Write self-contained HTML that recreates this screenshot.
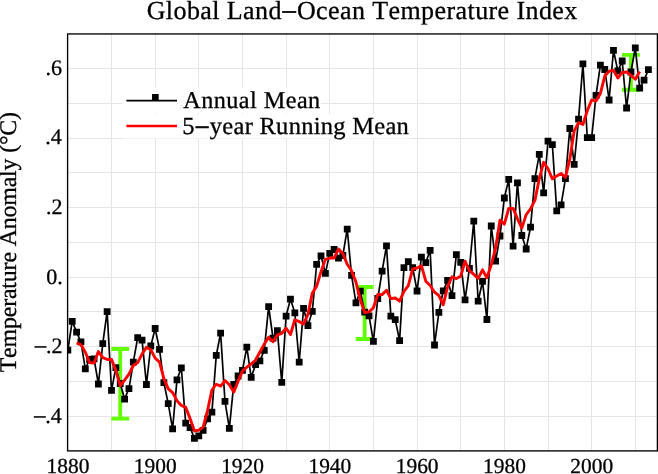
<!DOCTYPE html><html><head><meta charset="utf-8"><style>html,body{margin:0;padding:0;background:#fff;width:658px;height:474px;overflow:hidden}svg{display:block;will-change:transform}text{font-family:"Liberation Serif",serif;fill:#000;font-kerning:none;text-rendering:geometricPrecision;stroke:#000;stroke-width:0.3px}</style></head><body>
<svg width="658" height="474" viewBox="0 0 658 474">
<rect width="658" height="474" fill="#fff"/>
<path d="M111.5 33.95V450.9M155.5 33.95V450.9M198.5 33.95V450.9M242.5 33.95V450.9M286.5 33.95V450.9M329.5 33.95V450.9M373.5 33.95V450.9M417.5 33.95V450.9M460.5 33.95V450.9M504.5 33.95V450.9M548.5 33.95V450.9M591.5 33.95V450.9M635.5 33.95V450.9M67.6 68.5H657.4M67.6 103.5H657.4M67.6 138.5H657.4M67.6 172.5H657.4M67.6 207.5H657.4M67.6 242.5H657.4M67.6 277.5H657.4M67.6 311.5H657.4M67.6 346.5H657.4M67.6 381.5H657.4M67.6 416.5H657.4" stroke="#e5e5e5" stroke-width="1" fill="none"/>
<rect x="122" y="87.6" width="199" height="25.6" fill="#fff"/>
<rect x="122" y="114.2" width="288" height="24.3" fill="#fff"/>
<defs><clipPath id="c"><rect x="67.6" y="33.95" width="589.80" height="416.95"/></clipPath></defs><g clip-path="url(#c)">
<path d="M120.23 349.00V418.70M111.33 349.00H129.13M111.33 418.70H129.13" stroke="#62ff00" stroke-width="3.8" fill="none"/>
<path d="M364.67 287.00V339.00M355.77 287.00H373.57M355.77 339.00H373.57" stroke="#62ff00" stroke-width="3.8" fill="none"/>
<path d="M630.94 54.90V89.75M622.04 54.90H639.84M622.04 89.75H639.84" stroke="#62ff00" stroke-width="3.8" fill="none"/>
<polyline points="67.85,350.20 72.21,321.30 76.58,332.10 80.94,341.90 85.31,368.80 89.67,359.50 94.04,358.80 98.41,384.00 102.77,343.70 107.13,311.60 111.50,390.30 115.86,367.70 120.23,383.50 124.59,399.10 128.96,388.60 133.32,362.20 137.69,337.60 142.06,340.10 146.42,384.50 150.78,346.00 155.15,328.50 159.51,349.40 163.88,382.60 168.25,403.70 172.61,428.80 176.97,379.80 181.34,367.90 185.70,423.20 190.07,427.50 194.44,438.40 198.80,435.80 203.16,430.30 207.53,418.90 211.90,412.20 216.26,355.40 220.62,333.20 224.99,401.40 229.35,428.30 233.72,384.50 238.09,376.00 242.45,370.40 246.81,347.10 251.18,377.30 255.55,364.70 259.91,360.80 264.27,350.30 268.64,306.70 273.00,338.20 277.37,330.70 281.74,382.40 286.10,316.10 290.47,299.10 294.83,312.80 299.19,362.20 303.56,308.40 307.93,325.60 312.29,311.40 316.65,264.40 321.02,255.90 325.38,273.30 329.75,253.30 334.12,249.50 338.48,258.10 342.85,255.50 347.21,229.20 351.58,275.30 355.94,302.80 360.31,291.10 364.67,312.20 369.03,315.90 373.40,341.40 377.76,298.50 382.13,271.10 386.50,245.80 390.86,316.20 395.23,319.70 399.59,340.60 403.96,267.60 408.32,261.60 412.69,267.60 417.05,291.00 421.41,257.10 425.78,262.60 430.14,250.30 434.51,345.00 438.88,312.30 443.24,290.80 447.61,280.30 451.97,295.70 456.34,254.60 460.70,262.30 465.07,299.90 469.43,268.40 473.79,221.10 478.16,301.20 482.52,281.40 486.89,319.50 491.25,226.00 495.62,261.10 499.99,236.00 504.35,198.00 508.72,179.40 513.08,246.10 517.45,182.80 521.81,235.50 526.18,249.00 530.54,227.10 534.90,178.70 539.27,154.40 543.63,192.80 548.00,141.10 552.37,144.70 556.73,210.80 561.10,204.80 565.46,178.60 569.83,128.50 574.19,164.30 578.56,119.10 582.92,63.80 587.29,137.70 591.65,137.70 596.02,95.40 600.38,65.10 604.75,69.50 609.11,100.00 613.48,50.30 617.84,71.00 622.21,61.00 626.57,108.00 630.94,72.00 635.30,47.80 639.67,88.20 644.03,80.20 648.40,69.60" stroke="#000" stroke-width="1.7" fill="none" stroke-linejoin="miter"/>
<path d="M64.45 346.80h6.8v6.8h-6.8zM68.81 317.90h6.8v6.8h-6.8zM73.18 328.70h6.8v6.8h-6.8zM77.54 338.50h6.8v6.8h-6.8zM81.91 365.40h6.8v6.8h-6.8zM86.27 356.10h6.8v6.8h-6.8zM90.64 355.40h6.8v6.8h-6.8zM95.00 380.60h6.8v6.8h-6.8zM99.37 340.30h6.8v6.8h-6.8zM103.73 308.20h6.8v6.8h-6.8zM108.10 386.90h6.8v6.8h-6.8zM112.46 364.30h6.8v6.8h-6.8zM116.83 380.10h6.8v6.8h-6.8zM121.19 395.70h6.8v6.8h-6.8zM125.56 385.20h6.8v6.8h-6.8zM129.92 358.80h6.8v6.8h-6.8zM134.29 334.20h6.8v6.8h-6.8zM138.66 336.70h6.8v6.8h-6.8zM143.02 381.10h6.8v6.8h-6.8zM147.38 342.60h6.8v6.8h-6.8zM151.75 325.10h6.8v6.8h-6.8zM156.11 346.00h6.8v6.8h-6.8zM160.48 379.20h6.8v6.8h-6.8zM164.84 400.30h6.8v6.8h-6.8zM169.21 425.40h6.8v6.8h-6.8zM173.57 376.40h6.8v6.8h-6.8zM177.94 364.50h6.8v6.8h-6.8zM182.30 419.80h6.8v6.8h-6.8zM186.67 424.10h6.8v6.8h-6.8zM191.03 435.00h6.8v6.8h-6.8zM195.40 432.40h6.8v6.8h-6.8zM199.76 426.90h6.8v6.8h-6.8zM204.13 415.50h6.8v6.8h-6.8zM208.50 408.80h6.8v6.8h-6.8zM212.86 352.00h6.8v6.8h-6.8zM217.22 329.80h6.8v6.8h-6.8zM221.59 398.00h6.8v6.8h-6.8zM225.95 424.90h6.8v6.8h-6.8zM230.32 381.10h6.8v6.8h-6.8zM234.69 372.60h6.8v6.8h-6.8zM239.05 367.00h6.8v6.8h-6.8zM243.41 343.70h6.8v6.8h-6.8zM247.78 373.90h6.8v6.8h-6.8zM252.15 361.30h6.8v6.8h-6.8zM256.51 357.40h6.8v6.8h-6.8zM260.88 346.90h6.8v6.8h-6.8zM265.24 303.30h6.8v6.8h-6.8zM269.61 334.80h6.8v6.8h-6.8zM273.97 327.30h6.8v6.8h-6.8zM278.34 379.00h6.8v6.8h-6.8zM282.70 312.70h6.8v6.8h-6.8zM287.07 295.70h6.8v6.8h-6.8zM291.43 309.40h6.8v6.8h-6.8zM295.80 358.80h6.8v6.8h-6.8zM300.16 305.00h6.8v6.8h-6.8zM304.53 322.20h6.8v6.8h-6.8zM308.89 308.00h6.8v6.8h-6.8zM313.25 261.00h6.8v6.8h-6.8zM317.62 252.50h6.8v6.8h-6.8zM321.99 269.90h6.8v6.8h-6.8zM326.35 249.90h6.8v6.8h-6.8zM330.72 246.10h6.8v6.8h-6.8zM335.08 254.70h6.8v6.8h-6.8zM339.45 252.10h6.8v6.8h-6.8zM343.81 225.80h6.8v6.8h-6.8zM348.18 271.90h6.8v6.8h-6.8zM352.54 299.40h6.8v6.8h-6.8zM356.91 287.70h6.8v6.8h-6.8zM361.27 308.80h6.8v6.8h-6.8zM365.63 312.50h6.8v6.8h-6.8zM370.00 338.00h6.8v6.8h-6.8zM374.37 295.10h6.8v6.8h-6.8zM378.73 267.70h6.8v6.8h-6.8zM383.10 242.40h6.8v6.8h-6.8zM387.46 312.80h6.8v6.8h-6.8zM391.83 316.30h6.8v6.8h-6.8zM396.19 337.20h6.8v6.8h-6.8zM400.56 264.20h6.8v6.8h-6.8zM404.92 258.20h6.8v6.8h-6.8zM409.29 264.20h6.8v6.8h-6.8zM413.65 287.60h6.8v6.8h-6.8zM418.01 253.70h6.8v6.8h-6.8zM422.38 259.20h6.8v6.8h-6.8zM426.75 246.90h6.8v6.8h-6.8zM431.11 341.60h6.8v6.8h-6.8zM435.48 308.90h6.8v6.8h-6.8zM439.84 287.40h6.8v6.8h-6.8zM444.21 276.90h6.8v6.8h-6.8zM448.57 292.30h6.8v6.8h-6.8zM452.94 251.20h6.8v6.8h-6.8zM457.30 258.90h6.8v6.8h-6.8zM461.67 296.50h6.8v6.8h-6.8zM466.03 265.00h6.8v6.8h-6.8zM470.39 217.70h6.8v6.8h-6.8zM474.76 297.80h6.8v6.8h-6.8zM479.12 278.00h6.8v6.8h-6.8zM483.49 316.10h6.8v6.8h-6.8zM487.86 222.60h6.8v6.8h-6.8zM492.22 257.70h6.8v6.8h-6.8zM496.59 232.60h6.8v6.8h-6.8zM500.95 194.60h6.8v6.8h-6.8zM505.32 176.00h6.8v6.8h-6.8zM509.68 242.70h6.8v6.8h-6.8zM514.05 179.40h6.8v6.8h-6.8zM518.41 232.10h6.8v6.8h-6.8zM522.78 245.60h6.8v6.8h-6.8zM527.14 223.70h6.8v6.8h-6.8zM531.50 175.30h6.8v6.8h-6.8zM535.87 151.00h6.8v6.8h-6.8zM540.24 189.40h6.8v6.8h-6.8zM544.60 137.70h6.8v6.8h-6.8zM548.97 141.30h6.8v6.8h-6.8zM553.33 207.40h6.8v6.8h-6.8zM557.70 201.40h6.8v6.8h-6.8zM562.06 175.20h6.8v6.8h-6.8zM566.43 125.10h6.8v6.8h-6.8zM570.79 160.90h6.8v6.8h-6.8zM575.16 115.70h6.8v6.8h-6.8zM579.52 60.40h6.8v6.8h-6.8zM583.89 134.30h6.8v6.8h-6.8zM588.25 134.30h6.8v6.8h-6.8zM592.62 92.00h6.8v6.8h-6.8zM596.98 61.70h6.8v6.8h-6.8zM601.35 66.10h6.8v6.8h-6.8zM605.71 96.60h6.8v6.8h-6.8zM610.08 46.90h6.8v6.8h-6.8zM614.44 67.60h6.8v6.8h-6.8zM618.81 57.60h6.8v6.8h-6.8zM623.17 104.60h6.8v6.8h-6.8zM627.54 68.60h6.8v6.8h-6.8zM631.90 44.40h6.8v6.8h-6.8zM636.27 84.80h6.8v6.8h-6.8zM640.63 76.80h6.8v6.8h-6.8zM645.00 66.20h6.8v6.8h-6.8z" fill="#000"/>
<polyline points="76.58,342.86 80.94,344.72 85.31,352.22 89.67,362.60 94.04,362.96 98.41,351.52 102.77,357.68 107.13,359.46 111.50,359.36 115.86,370.44 120.23,385.84 124.59,380.22 128.96,374.20 133.32,365.52 137.69,362.60 142.06,354.08 146.42,347.34 150.78,349.70 155.15,358.20 159.51,362.04 163.88,378.60 168.25,388.86 172.61,392.56 176.97,400.68 181.34,405.44 185.70,407.36 190.07,418.56 194.44,431.04 198.80,430.18 203.16,427.12 207.53,410.52 211.90,390.00 216.26,384.22 220.62,386.10 224.99,380.56 229.35,384.68 233.72,392.12 238.09,381.26 242.45,371.06 246.81,367.10 251.18,364.06 255.55,360.04 259.91,351.96 264.27,344.14 268.64,337.34 273.00,341.66 277.37,334.82 281.74,333.30 286.10,328.22 290.47,334.52 294.83,319.72 299.19,321.62 303.56,324.08 307.93,314.40 312.29,293.14 316.65,286.12 321.02,271.66 325.38,259.28 329.75,258.02 334.12,257.94 338.48,249.12 342.85,253.52 347.21,264.18 351.58,270.78 355.94,282.12 360.31,299.46 364.67,312.68 369.03,311.82 373.40,307.82 377.76,294.54 382.13,294.60 386.50,290.26 390.86,298.68 395.23,297.98 399.59,301.14 403.96,291.42 408.32,285.68 412.69,268.98 417.05,267.98 421.41,265.72 425.78,281.20 430.14,285.46 434.51,292.20 438.88,295.74 443.24,304.82 447.61,286.74 451.97,276.74 456.34,278.56 460.70,276.18 465.07,261.26 469.43,270.58 473.79,274.40 478.16,278.32 482.52,269.84 486.89,277.84 491.25,264.80 495.62,248.12 499.99,220.10 504.35,224.12 508.72,208.46 513.08,208.36 517.45,218.56 521.81,228.10 526.18,214.62 530.54,208.94 534.90,200.40 539.27,178.82 543.63,162.34 548.00,168.76 552.37,178.84 556.73,176.00 561.10,173.48 565.46,177.40 569.83,159.06 574.19,130.86 578.56,122.68 582.92,124.52 587.29,110.74 591.65,99.94 596.02,101.08 600.38,93.54 604.75,76.06 609.11,71.18 613.48,70.36 617.84,78.06 622.21,72.46 626.57,71.96 630.94,75.40 635.30,79.24 639.67,71.56" stroke="#ff0000" stroke-width="2.9" fill="none" stroke-linejoin="round"/>
</g>
<rect x="67.6" y="33.95" width="589.80" height="416.95" fill="none" stroke="#000" stroke-width="1.35"/>
<path d="M126.4 100.7H177" stroke="#000" stroke-width="1.8"/>
<rect x="152" y="94" width="6.7" height="6.7" fill="#000"/>
<path d="M126.4 126H177" stroke="#ff0000" stroke-width="2.7"/>
<text x="183.26" y="107.80" font-size="24.2" letter-spacing="0.461">Annual Mean</text>
<text x="182.28" y="133.90" font-size="24.5" letter-spacing="0.278">5<tspan dx="1.2" dy="-1.2" stroke="#000" stroke-width="0.7">–</tspan><tspan dx="1.3" dy="1.2">year Running Mean</tspan></text>
<text x="146.68" y="18.70" font-size="26.0" letter-spacing="0.410">Global Land<tspan dx="0.8" dy="-0.65" stroke="#000" stroke-width="0.7">–</tspan><tspan dx="0.8" dy="0.65">Ocean Temperature Index</tspan></text>
<text x="45.46" y="74.80" font-size="22" letter-spacing="0.000">.6</text>
<text x="45.14" y="144.40" font-size="22" letter-spacing="0.000">.4</text>
<text x="46.01" y="214.00" font-size="22" letter-spacing="0.000">.2</text>
<text x="46.25" y="283.60" font-size="22" letter-spacing="0.000">0.</text>
<text x="35.01" y="353.20" font-size="22" letter-spacing="0.000"><tspan dx="0" dy="-1.2" stroke="#000" stroke-width="0.5">–</tspan><tspan dx="0" dy="1.2">.2</tspan></text>
<text x="34.14" y="422.80" font-size="22" letter-spacing="0.000"><tspan dx="0" dy="-1.2" stroke="#000" stroke-width="0.5">–</tspan><tspan dx="0" dy="1.2">.4</tspan></text>
<text x="46.55" y="472.80" font-size="21.4">1880</text>
<text x="133.85" y="472.80" font-size="21.4">1900</text>
<text x="221.15" y="472.80" font-size="21.4">1920</text>
<text x="308.45" y="472.80" font-size="21.4">1940</text>
<text x="395.75" y="472.80" font-size="21.4">1960</text>
<text x="483.05" y="472.80" font-size="21.4">1980</text>
<text x="570.35" y="472.80" font-size="21.4">2000</text>
<text transform="translate(15.8,372.33) rotate(-90)" font-size="23.9" letter-spacing="-0.170">Temperature Anomaly (°C)</text>
</svg></body></html>
